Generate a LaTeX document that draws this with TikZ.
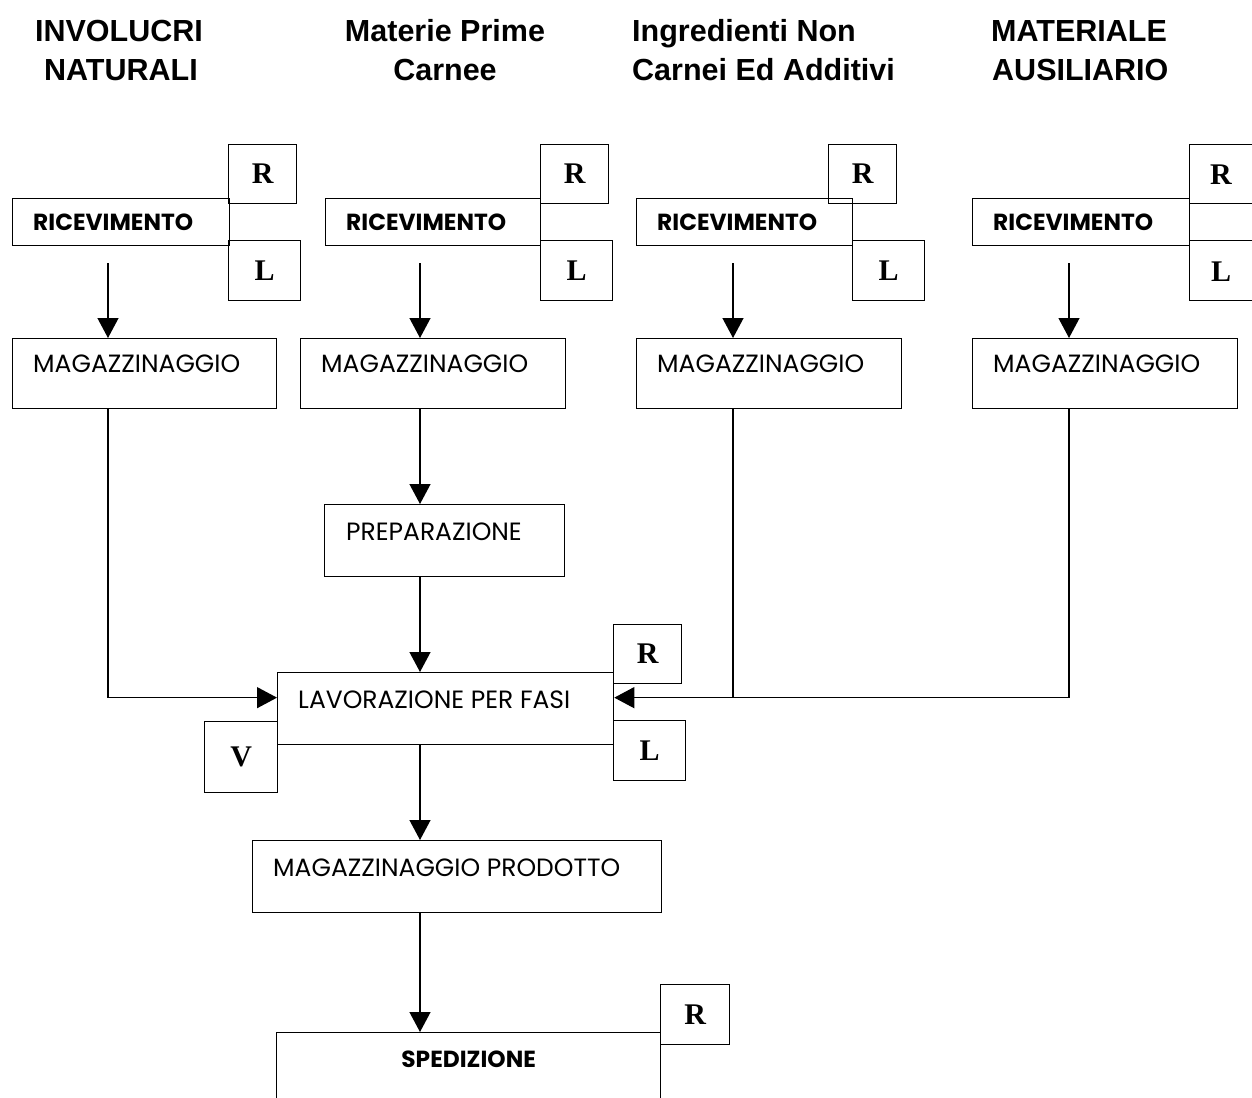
\documentclass[tikz,border=0pt]{standalone}
\usepackage{fontspec}
\usetikzlibrary{arrows.meta}
\newfontfamily\hdrfont{Liberation Sans}
\newfontfamily\boxfont{Poppins}
\newfontfamily\letfont{Liberation Serif}
\tikzset{
  box/.style={draw, line width=1.3pt, rectangle, inner sep=0pt, anchor=north west},
  lbl/.style={inner sep=0pt, anchor=base west, font=\boxfont\fontsize{25}{28}\selectfont},
  blbl/.style={inner sep=0pt, anchor=base west, font=\boxfont\bfseries\fontsize{23.3}{26}\selectfont},
  letter/.style={draw, line width=1.3pt, rectangle, inner sep=0pt, anchor=north west, font=\letfont\bfseries\fontsize{30}{32}\selectfont},
  hdr/.style={inner sep=0pt, anchor=base, font=\hdrfont\bfseries\fontsize{30.5}{34}\selectfont},
  hdrl/.style={hdr, anchor=base west},
  conn/.style={line width=1.3pt},
  arr/.style={conn, -{Triangle[length=20pt,width=21pt]}}
}
\begin{document}
\begin{tikzpicture}[x=1pt,y=-1pt]
\useasboundingbox (0,0) rectangle (1252,1097);
\clip (0,0) rectangle (1252,1097);
\fill[white] (0,0) rectangle (1252,1097);
% headers
\node[hdr] (h1a) at (119,42) {INVOLUCRI};
\node[hdr] (h1b) at (121,81) {NATURALI};
\node[hdr] (h2a) at (445,42) {Materie Prime};
\node[hdr] (h2b) at (445,81) {Carnee};
\node[hdrl] (h3a) at (632,42) {Ingredienti Non};
\node[hdrl] (h3b) at (632,81) {Carnei Ed Additivi};
\node[hdrl] (h4a) at (991,42) {MATERIALE};
\node[hdrl] (h4b) at (992,81) {AUSILIARIO};
% column 1
\node[box, minimum width=217pt, minimum height=47pt] (ric1) at (12,198) {};
\node[blbl] (ric1t) at ([xshift=21pt,yshift=-32pt]ric1.north west) {RICEVIMENTO};
\node[letter, minimum width=68pt, minimum height=59pt] (r1) at (228,144) {R};
\node[letter, minimum width=72pt, minimum height=60pt] (l1) at (228,240) {L};
\node[box, minimum width=264pt, minimum height=70pt] (mag1) at (12,338) {};
\node[lbl] (mag1t) at ([xshift=21pt,yshift=-34pt]mag1.north west) {MAGAZZINAGGIO};
% column 2
\node[box, minimum width=215pt, minimum height=47pt] (ric2) at (325,198) {};
\node[blbl] (ric2t) at ([xshift=21pt,yshift=-32pt]ric2.north west) {RICEVIMENTO};
\node[letter, minimum width=68pt, minimum height=59pt] (r2) at (540,144) {R};
\node[letter, minimum width=72pt, minimum height=60pt] (l2) at (540,240) {L};
\node[box, minimum width=265pt, minimum height=70pt] (mag2) at (300,338) {};
\node[lbl] (mag2t) at ([xshift=21pt,yshift=-34pt]mag2.north west) {MAGAZZINAGGIO};
\node[box, minimum width=240pt, minimum height=72pt] (prep) at (324,504) {};
\node[lbl] (prept) at ([xshift=22pt,yshift=-36pt]prep.north west) {PREPARAZIONE};
% column 3
\node[box, minimum width=216pt, minimum height=47pt] (ric3) at (636,198) {};
\node[blbl] (ric3t) at ([xshift=21pt,yshift=-32pt]ric3.north west) {RICEVIMENTO};
\node[letter, minimum width=68pt, minimum height=59pt] (r3) at (828,144) {R};
\node[letter, minimum width=72pt, minimum height=60pt] (l3) at (852,240) {L};
\node[box, minimum width=265pt, minimum height=70pt] (mag3) at (636,338) {};
\node[lbl] (mag3t) at ([xshift=21pt,yshift=-34pt]mag3.north west) {MAGAZZINAGGIO};
% column 4
\node[box, minimum width=217pt, minimum height=47pt] (ric4) at (972,198) {};
\node[blbl] (ric4t) at ([xshift=21pt,yshift=-32pt]ric4.north west) {RICEVIMENTO};
\node[box, minimum width=90pt, minimum height=59pt] (r4) at (1189,144) {};
\node[inner sep=0pt, font=\letfont\bfseries\fontsize{30}{32}\selectfont] (r4t) at (1221,175) {R};
\node[box, minimum width=90pt, minimum height=60pt] (l4) at (1189,240) {};
\node[inner sep=0pt, font=\letfont\bfseries\fontsize{30}{32}\selectfont] (l4t) at (1221,272) {L};
\node[box, minimum width=265pt, minimum height=70pt] (mag4) at (972,338) {};
\node[lbl] (mag4t) at ([xshift=21pt,yshift=-34pt]mag4.north west) {MAGAZZINAGGIO};
% central
\node[box, minimum width=336pt, minimum height=72pt] (lav) at (277,672) {};
\node[lbl] (lavt) at ([xshift=21pt,yshift=-36pt]lav.north west) {LAVORAZIONE PER FASI};
\node[letter, minimum width=68pt, minimum height=59pt] (rl) at (613,624) {R};
\node[letter, minimum width=72pt, minimum height=60pt] (ll) at (613,720) {L};
\node[letter, minimum width=73pt, minimum height=71pt] (vl) at (204,721) {V};
\node[box, minimum width=409pt, minimum height=72pt] (magp) at (252,840) {};
\node[lbl] (magpt) at ([xshift=21pt,yshift=-36pt]magp.north west) {MAGAZZINAGGIO PRODOTTO};
\node[box, minimum width=384pt, minimum height=120pt] (sped) at (276,1032) {};
\node[blbl, anchor=base] (spedt) at ([yshift=-35pt]sped.north) {SPEDIZIONE};
\node[letter, minimum width=69pt, minimum height=60pt] (rs) at (660,984) {R};
% connector coordinates
\coordinate (s1) at (108,263);
\coordinate (s2) at (420,263);
\coordinate (s3) at (733,263);
\coordinate (s4) at (1069,263);
\coordinate (lw) at ([yshift=11pt]lav.west);
\coordinate (le) at ([yshift=11pt]lav.east);
% connectors
\draw[arr] (s1) -- (s1 |- mag1.north);
\draw[arr] (s2) -- (s2 |- mag2.north);
\draw[arr] (s3) -- (s3 |- mag3.north);
\draw[arr] (s4) -- (s4 |- mag4.north);
\draw[arr] (s2 |- mag2.south) -- (s2 |- prep.north);
\draw[arr] (s2 |- prep.south) -- (s2 |- lav.north);
\draw[arr] (s1 |- mag1.south) |- (lw);
\draw[arr] (s4 |- mag4.south) |- (le);
\draw[conn] (s3 |- mag3.south) -- (s3 |- le);
\draw[arr] (s2 |- lav.south) -- (s2 |- magp.north);
\draw[arr] (s2 |- magp.south) -- (s2 |- sped.north);
\end{tikzpicture}
\end{document}
